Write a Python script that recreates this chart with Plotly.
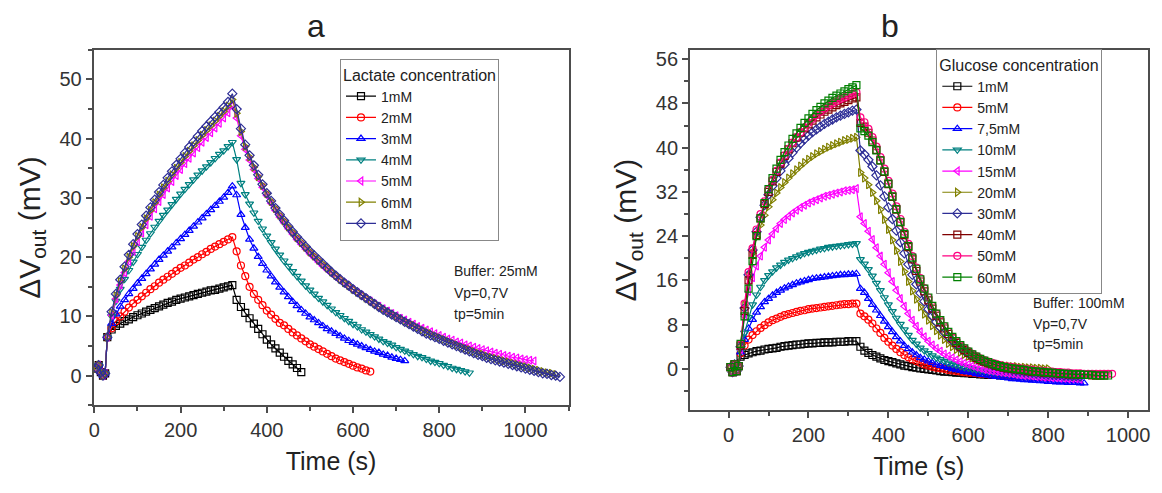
import plotly.graph_objects as go

# ---------------- time grids (s) ----------------
t_base = [5, 10, 15, 20, 25]
t_rise = [30, 40, 50, 60, 70, 80, 90, 100, 110, 120, 130, 140, 150, 160, 170,
          180, 190, 200, 210, 220, 230, 240, 250, 260, 270, 280, 290, 300, 310, 320]
t_decay = [330, 340, 350, 360, 370, 380, 390, 400, 410, 420, 430, 440, 450, 460, 470,
           480, 490, 500, 510, 520, 530, 540, 550, 560, 570, 580, 590, 600, 610, 620,
           630, 640, 650, 660, 670, 680, 690, 700, 710, 720, 730, 740, 750, 760, 770,
           780, 790, 800, 810, 820, 830, 840, 850, 860, 870, 880, 890, 900, 910, 920,
           930, 940, 950, 960, 970, 980, 990, 1000, 1010, 1020, 1030, 1040, 1050, 1060,
           1070, 1080]

# ---------------- panel a : lactate ----------------
a_labels = ["1mM", "2mM", "3mM", "4mM", "5mM", "6mM", "8mM"]
a_colors = ["#000000", "#FF0000", "#0000FF", "#008080", "#FF00FF", "#808000", "#2E2E96"]
a_symbols = ["square-open", "circle-open", "triangle-up-open", "triangle-down-open",
             "triangle-left-open", "triangle-right-open", "diamond-open"]
a_base = [1.2, 1.8, 0.6, 0.0, 0.4]

a1_rise = [6.5, 7.8, 8.4, 8.8, 9.2, 9.5, 9.9, 10.2, 10.5, 10.8, 11.1, 11.4, 11.7, 12.0, 12.3,
           12.5, 12.8, 13.0, 13.2, 13.4, 13.6, 13.8, 14.0, 14.2, 14.4, 14.5, 14.7, 14.9, 15.1, 15.3]
a1_decay = [12.8, 11.6, 10.6, 9.7, 8.8, 7.9, 7.0, 6.1, 5.3, 4.6, 3.9, 3.2, 2.5, 1.9, 1.3, 0.6]

a2_rise = [6.5, 8.0, 9.2, 10.0, 10.8, 11.5, 12.2, 12.8, 13.4, 14.0, 14.6, 15.1, 15.7, 16.2, 16.7,
           17.2, 17.7, 18.2, 18.6, 19.1, 19.6, 20.0, 20.5, 20.9, 21.4, 21.8, 22.2, 22.6, 23.0, 23.4]
a2_decay = [21.0, 18.6, 16.8, 15.0, 13.8, 12.8, 11.9, 11.0, 10.3, 9.6, 8.9, 8.5, 7.9, 7.3, 6.8,
            6.3, 5.8, 5.3, 4.9, 4.5, 4.1, 3.7, 3.3, 2.9, 2.6, 2.3, 2.0, 1.7, 1.4, 1.2, 0.9, 0.7]

a3_rise = [6.5, 8.8, 10.4, 11.7, 12.8, 13.8, 14.7, 15.6, 16.4, 17.2, 18.0, 18.8, 19.6, 20.3, 21.0,
           21.7, 22.4, 23.1, 23.8, 24.5, 25.2, 25.9, 26.6, 27.3, 28.0, 28.7, 29.4, 30.1, 30.9, 32.0]
a3_decay = [30.5, 27.2, 25.0, 23.0, 21.5, 20.1, 18.9, 17.8, 16.8, 15.8, 14.9, 14.1, 13.3, 12.5, 11.8,
            11.1, 10.5, 9.9, 9.4, 8.9, 8.4, 7.9, 7.5, 7.1, 6.7, 6.3, 5.9, 5.6, 5.3, 5.0,
            4.7, 4.4, 4.1, 3.9, 3.6, 3.4, 3.1, 2.9, 2.7, 2.5]

a4_rise = [6.5, 10.0, 12.6, 14.6, 16.3, 17.8, 19.2, 20.5, 21.7, 22.9, 24.0, 25.1, 26.1, 27.1, 28.0,
           28.9, 29.8, 30.7, 31.5, 32.3, 33.1, 33.9, 34.6, 35.3, 36.0, 36.7, 37.4, 38.0, 38.7, 39.4]
a4_decay = [36.5, 32.5, 30.6, 29.0, 27.5, 26.1, 24.8, 23.6, 22.5, 21.4, 20.4, 19.4, 18.5, 17.6, 16.8,
            16.0, 15.2, 14.5, 13.8, 13.1, 12.5, 11.9, 11.3, 10.7, 10.2, 9.7, 9.2, 8.7, 8.3, 7.8,
            7.4, 7.0, 6.6, 6.2, 5.8, 5.5, 5.2, 4.8, 4.5, 4.2, 3.9, 3.6, 3.3, 3.1, 2.8,
            2.5, 2.3, 2.1, 1.8, 1.6, 1.3, 1.1, 0.9, 0.7, 0.5]

a5_rise = [6.5, 10.2, 13.0, 15.3, 17.4, 19.3, 21.0, 22.6, 24.1, 25.5, 26.9, 28.2, 29.4, 30.6, 31.7,
           32.8, 33.8, 34.8, 35.8, 36.7, 37.6, 38.5, 39.4, 40.2, 41.0, 41.8, 42.6, 43.5, 44.4, 45.5]
a5_decay = [43.5, 40.5, 38.2, 36.4, 34.8, 33.3, 31.8, 30.4, 29.1, 27.9, 26.8, 25.8, 24.8, 23.9, 23.0,
            22.2, 21.4, 20.6, 19.9, 19.2, 18.5, 17.9, 17.3, 16.7, 16.1, 15.6, 15.0, 14.5, 14.0, 13.5,
            13.0, 12.6, 12.1, 11.7, 11.3, 10.9, 10.5, 10.1, 9.7, 9.4, 9.0, 8.7, 8.3, 8.0, 7.7,
            7.4, 7.1, 6.8, 6.5, 6.2, 6.0, 5.7, 5.5, 5.2, 5.0, 4.8, 4.6, 4.4, 4.2, 4.0,
            3.8, 3.6, 3.4, 3.3, 3.1, 3.0, 2.8, 2.7, 2.6, 2.5]

a6_rise = [6.5, 10.6, 13.5, 15.9, 18.0, 20.0, 21.8, 23.5, 25.0, 26.5, 27.9, 29.2, 30.5, 31.7, 32.8,
           33.9, 35.0, 36.0, 37.0, 37.9, 38.8, 39.7, 40.6, 41.4, 42.2, 43.0, 43.8, 44.6, 45.5, 46.6]
a6_decay = [44.3, 41.2, 38.7, 36.9, 35.2, 33.6, 32.1, 30.7, 29.4, 28.2, 27.1, 26.1, 25.1, 24.2, 23.3,
            22.5, 21.7, 20.9, 20.2, 19.5, 18.8, 18.2, 17.5, 16.9, 16.3, 15.7, 15.2, 14.6, 14.1, 13.6,
            13.1, 12.6, 12.2, 11.7, 11.3, 10.8, 10.4, 10.0, 9.6, 9.2, 8.8, 8.5, 8.1, 7.7, 7.4,
            7.1, 6.7, 6.4, 6.1, 5.8, 5.5, 5.2, 4.9, 4.6, 4.4, 4.1, 3.8, 3.6, 3.3, 3.1,
            2.9, 2.7, 2.5, 2.3, 2.1, 1.9, 1.7, 1.5, 1.3, 1.1, 0.9, 0.7, 0.5, 0.4, 0.2]

a8_rise = [6.5, 10.8, 13.8, 16.2, 18.4, 20.4, 22.2, 23.9, 25.5, 27.0, 28.4, 29.7, 31.0, 32.2, 33.4,
           34.5, 35.6, 36.6, 37.6, 38.6, 39.5, 40.4, 41.3, 42.1, 42.9, 43.7, 44.5, 45.3, 46.2, 47.6]
a8_decay = [45.0, 41.7, 39.0, 37.2, 35.5, 33.9, 32.3, 30.8, 29.5, 28.3, 27.2, 26.2, 25.2, 24.3, 23.4,
            22.6, 21.8, 21.0, 20.3, 19.6, 18.9, 18.2, 17.5, 16.9, 16.3, 15.7, 15.2, 14.6, 14.1, 13.6,
            13.1, 12.6, 12.1, 11.6, 11.1, 10.7, 10.3, 9.9, 9.5, 9.1, 8.7, 8.3, 7.9, 7.5, 7.1,
            6.8, 6.5, 6.2, 5.9, 5.6, 5.3, 5.0, 4.7, 4.4, 4.1, 3.8, 3.5, 3.3, 3.0, 2.8,
            2.6, 2.4, 2.2, 2.0, 1.8, 1.6, 1.4, 1.2, 1.0, 0.8, 0.6, 0.4, 0.3, 0.1, 0.0, -0.2]

# ---------------- panel b : glucose ----------------
b_labels = ["1mM", "5mM", "7,5mM", "10mM", "15mM", "20mM", "30mM", "40mM", "50mM", "60mM"]
b_colors = ["#000000", "#FF0000", "#0000FF", "#008080", "#FF00FF", "#808000", "#2E2E96",
            "#800000", "#FF0080", "#008000"]
b_symbols = ["square-open", "circle-open", "triangle-up-open", "triangle-down-open",
             "triangle-left-open", "triangle-right-open", "diamond-open", "square-open",
             "circle-open", "square-open"]
b_base = [0.3, -0.6, 0.8, -0.4, 0.5]

b1_rise = [2.2, 2.5, 2.8, 3.0, 3.2, 3.3, 3.5, 3.6, 3.7, 3.8, 4.0, 4.1, 4.2, 4.3, 4.4,
           4.4, 4.5, 4.6, 4.6, 4.7, 4.7, 4.8, 4.8, 4.8, 4.9, 4.9, 4.9, 5.0, 5.0, 5.0]
b1_decay = [4.0, 3.3, 2.9, 2.5, 2.2, 1.9, 1.6, 1.4, 1.2, 1.0, 0.8, 0.6, 0.5, 0.3, 0.2,
            0.1, 0.0, -0.1, -0.2, -0.3, -0.4, -0.5, -0.5, -0.6, -0.7, -0.7, -0.8, -0.8, -0.9, -0.9,
            -1.0, -1.0, -1.1, -1.1, -1.1, -1.2, -1.2, -1.2]

b5_rise = [2.8, 4.2, 5.3, 6.1, 6.8, 7.4, 7.9, 8.4, 8.8, 9.1, 9.4, 9.7, 9.9, 10.1, 10.3,
           10.5, 10.6, 10.8, 10.9, 11.0, 11.1, 11.2, 11.3, 11.4, 11.5, 11.6, 11.7, 11.7, 11.8, 11.8]
b5_decay = [10.0, 9.5, 8.9, 8.2, 7.3, 6.5, 5.6, 4.9, 4.2, 3.6, 3.0, 2.5, 2.1, 1.7, 1.4,
            1.1, 0.8, 0.6, 0.4, 0.2, 0.1, 0.0, -0.2, -0.3, -0.4, -0.5, -0.6, -0.7, -0.7, -0.8,
            -0.9, -0.9, -1.0, -1.0, -1.1, -1.1, -1.2, -1.2, -1.3, -1.3, -1.3, -1.4, -1.4, -1.4, -1.5,
            -1.5, -1.5, -1.5]

b75_rise = [3.0, 5.3, 7.3, 8.9, 10.2, 11.2, 12.1, 12.7, 13.3, 13.8, 14.2, 14.6, 14.9, 15.2, 15.5,
            15.7, 15.9, 16.1, 16.3, 16.4, 16.5, 16.6, 16.7, 16.8, 16.9, 17.0, 17.0, 17.1, 17.1, 17.2]
b75_decay = [14.5, 13.8, 12.7, 11.6, 10.6, 9.6, 8.6, 7.6, 6.7, 5.8, 5.0, 4.2, 3.6, 3.0, 2.5,
             2.0, 1.7, 1.4, 1.1, 0.8, 0.6, 0.4, 0.2, 0.0, -0.2, -0.3, -0.5, -0.6, -0.7, -0.9,
             -1.0, -1.1, -1.2, -1.3, -1.4, -1.5, -1.6, -1.7, -1.8, -1.8, -1.9, -2.0, -2.0, -2.1, -2.1,
             -2.2, -2.2, -2.3, -2.3, -2.4, -2.4, -2.4, -2.5, -2.5, -2.5, -2.6, -2.6]

b10_rise = [3.2, 6.5, 9.3, 11.6, 13.4, 14.8, 16.0, 16.9, 17.6, 18.3, 18.8, 19.3, 19.7, 20.0, 20.3,
            20.6, 20.9, 21.1, 21.3, 21.5, 21.7, 21.8, 22.0, 22.1, 22.2, 22.3, 22.4, 22.5, 22.6, 22.7]
b10_decay = [19.8, 19.0, 18.0, 16.8, 15.5, 14.2, 12.9, 11.6, 10.4, 9.2, 8.1, 7.1, 6.1, 5.2, 4.5,
             3.8, 3.3, 2.8, 2.4, 2.0, 1.7, 1.4, 1.1, 0.9, 0.7, 0.5, 0.3, 0.2, 0.0, -0.1,
             -0.2, -0.3, -0.4, -0.5, -0.6, -0.6, -0.7, -0.8, -0.8, -0.9, -0.9, -1.0, -1.0, -1.0, -1.1,
             -1.1, -1.1, -1.2]

b15_rise = [3.5, 9.5, 14.0, 16.5, 18.6, 20.4, 22.0, 23.3, 24.4, 25.4, 26.3, 27.0, 27.6, 28.2, 28.7,
            29.2, 29.6, 30.0, 30.3, 30.6, 30.9, 31.2, 31.4, 31.6, 31.8, 32.0, 32.2, 32.3, 32.4, 32.6]
b15_decay = [27.5, 26.3, 24.9, 23.4, 21.9, 20.4, 18.9, 17.4, 15.8, 14.2, 12.7, 11.3, 10.0, 8.8, 7.7,
             6.7, 5.8, 5.0, 4.3, 3.7, 3.2, 2.7, 2.3, 2.0, 1.6, 1.3, 1.0, 0.8, 0.5, 0.3,
             0.1, -0.1, -0.3, -0.4, -0.5, -0.6, -0.7, -0.8, -0.9, -1.0, -1.1, -1.2, -1.2, -1.3, -1.4,
             -1.4, -1.5, -1.5, -1.6, -1.6, -1.7, -1.7, -1.8, -1.8, -1.8, -1.9]

b20_rise = [3.8, 11.5, 16.8, 20.9, 23.8, 26.0, 27.8, 29.3, 30.6, 31.8, 32.8, 33.7, 34.5, 35.3, 36.0,
            36.7, 37.3, 37.9, 38.4, 38.9, 39.3, 39.7, 40.1, 40.4, 40.7, 41.0, 41.3, 41.5, 41.7, 41.9]
b20_decay = [35.5, 34.5, 33.3, 31.9, 30.4, 28.8, 27.0, 25.2, 23.3, 21.4, 19.4, 17.6, 15.8, 14.1, 12.6,
             11.2, 9.9, 8.8, 7.8, 6.9, 6.1, 5.3, 4.6, 4.0, 3.5, 3.0, 2.6, 2.3, 2.0, 1.7,
             1.4, 1.2, 1.0, 0.9, 0.8, 0.7, 0.6, 0.5, 0.4, 0.4, 0.3, 0.3, 0.2, 0.2, 0.1,
             0.1, 0.0, 0.0]

b30_rise = [4.0, 11.0, 17.0, 21.5, 24.8, 27.4, 29.6, 31.5, 33.1, 34.5, 35.8, 37.0, 38.1, 39.1, 40.0,
            40.8, 41.5, 42.2, 42.8, 43.3, 43.8, 44.3, 44.7, 45.1, 45.5, 45.8, 46.1, 46.4, 46.7, 46.9]
b30_decay = [39.5, 38.8, 37.8, 36.6, 35.0, 33.2, 31.2, 29.2, 27.1, 25.0, 22.9, 20.9, 18.9, 17.0, 15.3,
             13.7, 12.2, 10.8, 9.6, 8.5, 7.5, 6.6, 5.8, 5.1, 4.4, 3.8, 3.3, 2.8, 2.4, 2.0,
             1.6, 1.3, 1.0, 0.7, 0.5, 0.3, 0.1, 0.0, -0.2, -0.3, -0.4, -0.5, -0.6, -0.7, -0.8,
             -0.8, -0.9, -1.0, -1.0, -1.1, -1.1, -1.2, -1.2, -1.3, -1.3, -1.4]

b40_rise = [4.2, 10.5, 16.0, 20.6, 24.2, 27.2, 29.8, 32.0, 33.9, 35.6, 37.1, 38.5, 39.7, 40.8, 41.8,
            42.7, 43.5, 44.2, 44.9, 45.5, 46.0, 46.5, 46.9, 47.3, 47.7, 48.0, 48.3, 48.6, 48.9, 49.1]
b40_decay = [44.5, 43.8, 42.7, 41.3, 39.6, 37.7, 35.6, 33.4, 31.1, 28.8, 26.5, 24.2, 22.0, 19.8, 17.7,
             15.8, 14.0, 12.4, 10.9, 9.6, 8.4, 7.3, 6.3, 5.5, 4.7, 4.0, 3.4, 2.9, 2.4, 2.0,
             1.6, 1.3, 1.0, 0.8, 0.6, 0.4, 0.2, 0.1, 0.0, -0.1, -0.2, -0.3, -0.4, -0.5, -0.5,
             -0.6, -0.7, -0.7, -0.8, -0.8, -0.9, -0.9, -1.0, -1.0, -1.0, -1.1, -1.1, -1.1, -1.2, -1.2,
             -1.2, -1.2]

b50_rise = [4.4, 11.8, 17.5, 21.8, 25.2, 28.0, 30.3, 32.4, 34.2, 35.8, 37.3, 38.6, 39.8, 40.9, 41.9,
            42.8, 43.7, 44.5, 45.2, 45.9, 46.5, 47.1, 47.6, 48.0, 48.4, 48.8, 49.1, 49.4, 49.7, 50.0]
b50_decay = [45.5, 44.6, 43.4, 41.9, 40.2, 38.3, 36.2, 34.0, 31.7, 29.4, 27.1, 24.8, 22.6, 20.4, 18.3,
             16.4, 14.6, 12.9, 11.4, 10.0, 8.8, 7.7, 6.7, 5.8, 5.0, 4.3, 3.7, 3.2, 2.7, 2.3,
             1.9, 1.6, 1.3, 1.1, 0.9, 0.7, 0.5, 0.4, 0.3, 0.2, 0.1, 0.0, -0.1, -0.2, -0.3,
             -0.3, -0.4, -0.5, -0.5, -0.6, -0.6, -0.7, -0.7, -0.8, -0.8, -0.8, -0.9, -0.9, -0.9, -0.9,
             -0.9, -0.9, -0.9, -0.9]

b60_rise = [4.5, 9.5, 14.5, 19.5, 24.0, 27.2, 30.0, 32.5, 34.5, 36.2, 37.8, 39.2, 40.4, 41.6, 42.6,
            43.6, 44.5, 45.3, 46.1, 46.8, 47.4, 48.0, 48.5, 49.0, 49.4, 49.8, 50.2, 50.6, 50.9, 51.3]
b60_decay = [43.5, 43.0, 42.2, 41.0, 39.5, 37.7, 35.7, 33.5, 31.2, 28.9, 26.6, 24.4, 22.2, 20.1, 18.1,
             16.2, 14.5, 12.9, 11.4, 10.0, 8.8, 7.7, 6.7, 5.8, 5.0, 4.3, 3.7, 3.1, 2.6, 2.2,
             1.8, 1.5, 1.2, 0.9, 0.7, 0.5, 0.3, 0.2, 0.1, 0.0, -0.1, -0.2, -0.3, -0.4, -0.5,
             -0.5, -0.6, -0.7, -0.7, -0.8, -0.8, -0.9, -0.9, -1.0, -1.0, -1.0, -1.1, -1.1, -1.1, -1.2,
             -1.2, -1.2, -1.2]

a_rises = [a1_rise, a2_rise, a3_rise, a4_rise, a5_rise, a6_rise, a8_rise]
a_decays = [a1_decay, a2_decay, a3_decay, a4_decay, a5_decay, a6_decay, a8_decay]
b_rises = [b1_rise, b5_rise, b75_rise, b10_rise, b15_rise, b20_rise, b30_rise, b40_rise, b50_rise, b60_rise]
b_decays = [b1_decay, b5_decay, b75_decay, b10_decay, b15_decay, b20_decay, b30_decay, b40_decay, b50_decay, b60_decay]

FONT = "Liberation Sans, Arial, sans-serif"
# the page body has an 8px margin, so the figure is drawn 8px in from the window edge
OFF = 8
W, H = 1162 - 2 * OFF, 493 - 2 * OFF


def fx(px):
    return (px - OFF) / W


def fy(py):
    return 1 - (py - OFF) / H


fig = go.Figure()


def add_series(labels, colors, symbols, base, rises, decays, xa, ya, leg):
    for lab, col, sym, rise, dec in zip(labels, colors, symbols, rises, decays):
        t = t_base + t_rise + t_decay[:len(dec)]
        v = base + rise + dec
        fig.add_trace(go.Scatter(
            x=t, y=v, mode="lines+markers", name=lab,
            line=dict(color=col, width=1.2),
            marker=dict(symbol=sym, size=7, color=col, line=dict(width=1.2, color=col)),
            xaxis=xa, yaxis=ya, legend=leg))


add_series(a_labels, a_colors, a_symbols, a_base, a_rises, a_decays, "x", "y", "legend")
add_series(b_labels, b_colors, b_symbols, b_base, b_rises, b_decays, "x2", "y2", "legend2")

LC = "#4d4d4d"
axis_common = dict(showline=True, linecolor=LC, linewidth=1.6, mirror=True,
                   ticks="outside", ticklen=6, tickwidth=1.5, tickcolor=LC,
                   showgrid=False, zeroline=False,
                   tickfont=dict(family=FONT, size=20, color="#333333"))
title_x = dict(family=FONT, size=25, color="#222222")
title_y = dict(family=FONT, size=30, color="#222222")

fig.update_layout(
    width=W, height=H, margin=dict(l=0, r=0, t=0, b=0),
    paper_bgcolor="white", plot_bgcolor="white",
    font=dict(family=FONT, color="#222222"),
    xaxis=dict(domain=[fx(89), fx(567)], range=[-2, 1100], tickvals=[0, 200, 400, 600, 800, 1000],
               minor=dict(dtick=100, ticks="outside", ticklen=4, tickcolor=LC),
               title=dict(text="Time (s)", font=title_x, standoff=12),
               anchor="y", **axis_common),
    yaxis=dict(domain=[fy(405), fy(48)], range=[-5, 55], tickvals=[0, 10, 20, 30, 40, 50],
               minor=dict(dtick=5, ticks="outside", ticklen=4, tickcolor=LC),
               title=dict(text="ΔV<sub>out</sub> (mV)", font=title_y, standoff=10),
               anchor="x", **axis_common),
    xaxis2=dict(domain=[fx(689), fx(1150)], range=[-97, 1050], tickvals=[0, 200, 400, 600, 800, 1000],
                minor=dict(dtick=100, ticks="outside", ticklen=4, tickcolor=LC),
                title=dict(text="Time (s)", font=title_x, standoff=12),
                anchor="y2", **axis_common),
    yaxis2=dict(domain=[fy(410), fy(48)], range=[-7.5, 57.7],
                tickvals=[0, 8, 16, 24, 32, 40, 48, 56],
                minor=dict(dtick=4, ticks="outside", ticklen=4, tickcolor=LC),
                title=dict(text="ΔV<sub>out</sub> (mV)", font=title_y, standoff=10),
                anchor="x2", **axis_common),
    legend=dict(x=fx(337), y=fy(57), xanchor="left", yanchor="top",
                bgcolor="white", bordercolor="#888888", borderwidth=1,
                font=dict(family=FONT, size=14, color="#222222"),
                title=dict(text="Lactate concentration", font=dict(family=FONT, size=16, color="#222222")),
                itemwidth=30, tracegroupgap=0),
    legend2=dict(x=fx(937), y=fy(47), xanchor="left", yanchor="top",
                 bgcolor="white", bordercolor="#888888", borderwidth=1,
                 font=dict(family=FONT, size=14, color="#222222"),
                 title=dict(text="Glucose concentration", font=dict(family=FONT, size=16, color="#222222")),
                 itemwidth=30, tracegroupgap=0),
)

notes = [
    ("a", 313, 24, 32), ("b", 890, 24, 32),
    ("Buffer: 25mM", 450, 270, 14), ("Vp=0,7V", 450, 292, 14), ("tp=5min", 450, 313, 14),
    ("Buffer: 100mM", 1032, 302, 14), ("Vp=0,7V", 1032, 323, 14), ("tp=5min", 1032, 343, 14),
]
for txt, px, py, fs in notes:
    fig.add_annotation(text=txt, xref="paper", yref="paper", x=fx(px), y=fy(py),
                       xanchor="center" if fs > 20 else "left", yanchor="middle",
                       showarrow=False, font=dict(family=FONT, size=fs, color="#222222"))

fig.write_html("out.html")
